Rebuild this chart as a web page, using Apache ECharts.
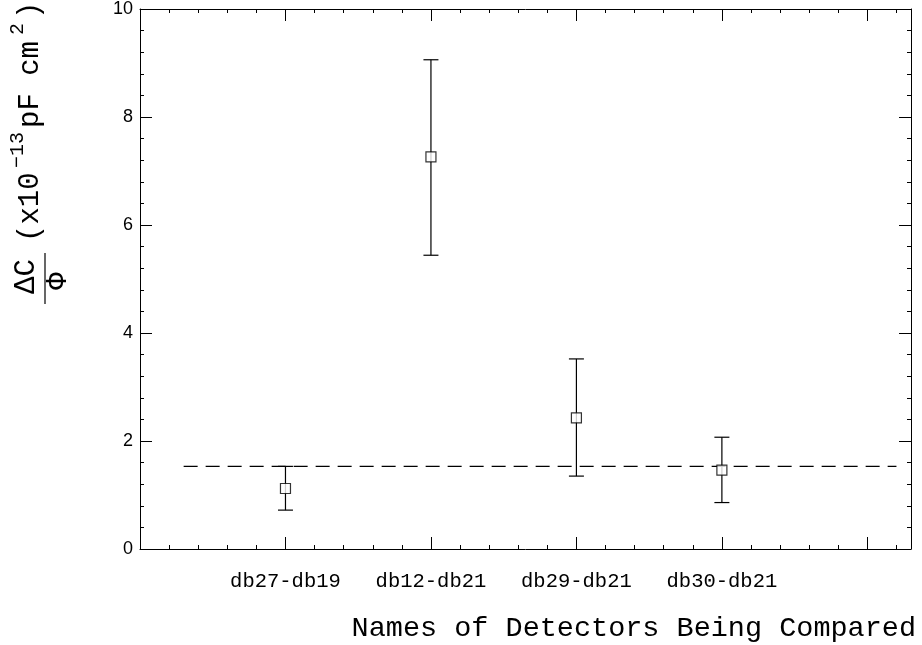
<!DOCTYPE html>
<html><head><meta charset="utf-8">
<script src="https://cdn.jsdelivr.net/npm/echarts@6/dist/echarts.min.js"></script>
<style>html,body{margin:0;padding:0;background:#fff}#c{width:922px;height:645px}</style>
</head><body><div id="c"></div>
<script>
// ---- data ----
const categories = ['db27-db19', 'db12-db21', 'db29-db21', 'db30-db21'];
const values = [1.12, 7.26, 2.43, 1.46];
const upper = [1.53, 9.06, 3.52, 2.07];
const lower = [0.72, 5.44, 1.35, 0.86];
const meanValue = 1.53;
const meanLineRange = [0.3, 5.2];
const yTickValues = [0, 2, 4, 6, 8, 10];
const xTitle = 'Names of Detectors Being Compared';

// ---- chart ----
const MONO = 'Liberation Mono';
const SANS = 'Liberation Sans';
const positions = categories.map((c, i) => i + 1);
const X_MIN = 0, X_MAX = 5.3;
const Y_MIN = yTickValues[0], Y_MAX = yTickValues[yTickValues.length - 1];
const Y_INT = yTickValues[1] - yTickValues[0];
const black = '#000';

function xAx(pos, interval, len, showLine, showLabel) {
  return {
    type: 'value', position: pos, min: X_MIN, max: X_MAX, interval: interval,
    axisLine: { show: showLine, onZero: false, lineStyle: { color: black, width: 1 } },
    axisTick: { show: true, inside: true, length: len, lineStyle: { color: black, width: 1 } },
    splitLine: { show: false },
    axisLabel: {
      show: showLabel, margin: 22, color: black, fontFamily: MONO, fontSize: 20.5,
      formatter: function (v) {
        const r = Math.round(v);
        if (Math.abs(v - r) > 1e-6) return '';
        return categories[r - 1] || '';
      }
    }
  };
}
function yAx(pos, showLabel) {
  return {
    type: 'value', position: pos, min: Y_MIN, max: Y_MAX, interval: Y_INT,
    axisLine: { show: true, onZero: false, lineStyle: { color: black, width: 1 } },
    axisTick: { show: true, inside: true, length: 12, lineStyle: { color: black, width: 1 } },
    minorTick: { show: true, splitNumber: 5, length: 4, lineStyle: { color: black, width: 1 } },
    splitLine: { show: false },
    axisLabel: { show: showLabel, margin: 7, color: black, fontFamily: SANS, fontSize: 18 }
  };
}

function txt(text, x, y, size, align) {
  return { type: 'text', style: { text: text, x: x, y: y, align: align, verticalAlign: 'middle',
    fontFamily: MONO, fontSize: size, fill: black } };
}

const chart = echarts.init(document.getElementById('c'), null, { renderer: 'canvas' });
const T = 29, S = 20;
chart.setOption({
  animation: false,
  backgroundColor: '#fff',
  grid: { left: 140, right: 11, top: 9, bottom: 96, containLabel: false },
  xAxis: [
    xAx('bottom', 1, 12, true, true),
    xAx('bottom', 0.2, 4, false, false),
    xAx('top', 1, 12, true, false),
    xAx('top', 0.2, 4, false, false)
  ],
  yAxis: [yAx('left', true), yAx('right', false)],
  series: [
    {
      type: 'line', xAxisIndex: 0, yAxisIndex: 0, silent: true,
      data: meanLineRange.map(x => [x, meanValue]),
      symbol: 'none',
      lineStyle: { color: black, width: 1.1, type: [14, 8] }
    },
    {
      type: 'custom', xAxisIndex: 0, yAxisIndex: 0, silent: true,
      data: positions.map((x, i) => [x, lower[i], upper[i]]),
      renderItem: function (params, api) {
        const lo = api.coord([api.value(0), api.value(1)]);
        const hi = api.coord([api.value(0), api.value(2)]);
        const w = 7.5;
        const st = { stroke: black, lineWidth: 1.2 };
        return {
          type: 'group',
          children: [
            { type: 'line', shape: { x1: lo[0], y1: lo[1], x2: hi[0], y2: hi[1] }, style: st },
            { type: 'line', shape: { x1: lo[0] - w, y1: lo[1], x2: lo[0] + w, y2: lo[1] }, style: st },
            { type: 'line', shape: { x1: hi[0] - w, y1: hi[1], x2: hi[0] + w, y2: hi[1] }, style: st }
          ]
        };
      }
    },
    {
      type: 'scatter', xAxisIndex: 0, yAxisIndex: 0, silent: true, z: 5,
      data: positions.map((x, i) => [x, values[i]]),
      symbol: 'rect', symbolSize: 10,
      itemStyle: { color: '#fff', borderColor: black, borderWidth: 1.2 }
    }
  ],
  graphic: [
    {
      type: 'group', x: 0, y: 303, rotation: Math.PI / 2, silent: true,
      children: [
        txt('ΔC', 26.5, 26, T, 'center'),
        { type: 'line', shape: { x1: -1, y1: 45, x2: 50, y2: 45 }, style: { stroke: black, lineWidth: 1.2 } },
        txt('Φ', 22, 58, T, 'center'),
        txt('(x10', 61, 30, T, 'left'),
        txt('−13', 135, 18, S, 'left'),
        txt('pF cm', 175, 30, T, 'left'),
        txt('2', 268, 18, S, 'left'),
        txt(')', 284, 30, T, 'left')
      ]
    },
    {
      type: 'text', silent: true,
      style: { text: xTitle, x: 916, y: 628, align: 'right', verticalAlign: 'middle',
        fontFamily: MONO, fontSize: 28.5, fill: black }
    }
  ]
});
</script>
</body></html>
